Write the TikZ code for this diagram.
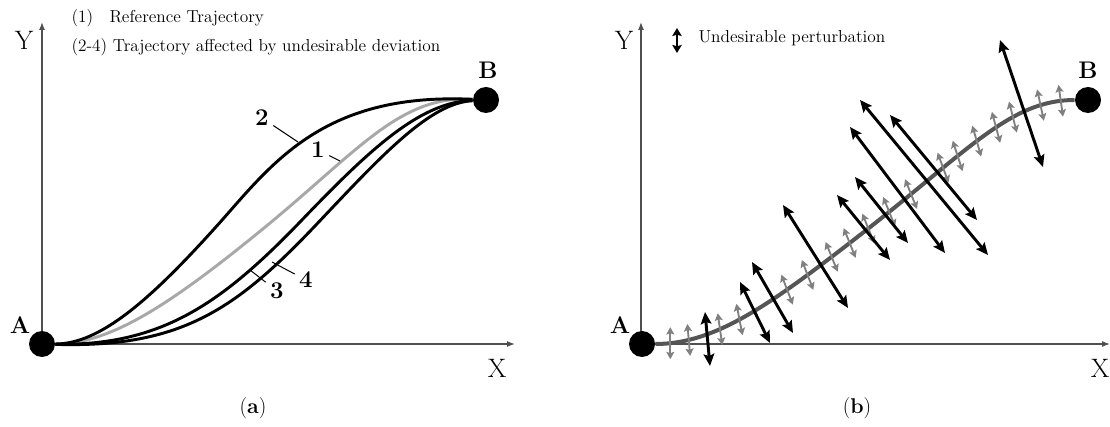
\documentclass[tikz,border=0pt]{standalone}
\usetikzlibrary{arrows.meta,decorations.markings}

\tikzset{every picture/.style={line width=0.75pt}}
\tikzset{
axisline/.style={draw={rgb, 255:red, 80; green, 80; blue, 80}, line width=0.9pt, -{Latex[length=6pt,width=4.5pt]}},
pathblack/.style={draw=black, line width=2.2pt},
pathgray/.style={draw={rgb, 255:red, 168; green, 168; blue, 168}, line width=2.2pt},
pathref/.style={draw={rgb, 255:red, 85; green, 85; blue, 85}, line width=3pt},
endpoint/.style={circle, fill=black, inner sep=0pt, minimum size=19.5pt},
ptlabel/.style={font=\fontsize{18}{20}\selectfont\bfseries, inner sep=0.75pt},
axlabel/.style={font=\fontsize{20}{22}\selectfont, inner sep=0.75pt},
numlabel/.style={font=\fontsize{18}{20}\selectfont\bfseries, inner sep=3pt},
leader/.style={draw=black, line width=0.75pt},
notetext/.style={font=\fontsize{13}{15}\selectfont, anchor=west, inner sep=0.75pt},
bigperturb/.style={draw=black, line width=2.2pt, {Stealth[length=9pt,width=8pt,inset=1.5pt]}-{Stealth[length=9pt,width=8pt,inset=1.5pt]}},
smallperturb/.style={draw={rgb, 255:red, 128; green, 128; blue, 128}, line width=1.4pt, {Stealth[length=5.5pt,width=6pt,inset=1pt]}-{Stealth[length=5.5pt,width=6pt,inset=1pt]}},
subcap/.style={font=\fontsize{16}{18}\selectfont, inner sep=0.75pt}
}

\begin{document}
\begin{tikzpicture}[x=0.75pt,y=0.75pt,yscale=-1,xscale=1]
\useasboundingbox (0,0) rectangle (1110,427);

%%%%%%%%%%%%%%%%%%%% (a) %%%%%%%%%%%%%%%%%%%%
%Shape: Axis 2D
\draw [axisline] (42,344) -- (42,22) ;
\draw [axisline] (42,344) -- (515,344) ;
%Shape: Circle (end points)
\node [endpoint] (A1) at (42,344) {} ;
\node [endpoint] (B1) at (486,100) {} ;
%Curve Lines (reference)
\draw [pathgray] (A1) .. controls (110,344) and (170,305) .. (264,228) .. controls (358,151) and (400,95) .. (B1) ;
%Curve Lines (deviated)
\draw [pathblack] (A1) .. controls (100,344) and (150,300) .. (215,228) .. controls (270,167) and (320,92) .. (B1) ;
\draw [pathblack] (A1) .. controls (160,346) and (220,305) .. (300,222) .. controls (370,149) and (420,102) .. (B1) ;
\draw [pathblack] (A1) .. controls (180,348) and (235,310) .. (315,226) .. controls (383,154) and (430,103) .. (B1) ;

% Text Node
\node [axlabel] (Ya) at (24,40) {Y} ;
\node [axlabel] (Xa) at (497,368) {X} ;
\node [ptlabel] (LA1) at (20,325) {A} ;
\node [ptlabel] (LB1) at (488,70) {B} ;
\node [notetext] (n1) at (70,18) {(1)} ;
\node [notetext] (n1t) at (108,18) {Reference Trajectory} ;
\node [notetext] (n2) at (70,47) {(2-4) Trajectory affected by undesirable deviation} ;

%Straight Lines (leaders)
\node [numlabel] (l1) at (318,150) {1} ;
\node [numlabel] (l2) at (262,118) {2} ;
\node [numlabel] (l3) at (277,291) {3} ;
\node [numlabel] (l4) at (306,280) {4} ;
\coordinate (p1) at (340,161) ;
\coordinate (p2) at (298,142) ;
\coordinate (p3) at (250,270) ;
\coordinate (p4) at (272,262) ;
\draw [leader] (l1) -- (p1) ;
\draw [leader] (l2) -- (p2) ;
\draw [leader] (l3) -- (p3) ;
\draw [leader] (l4) -- (p4) ;

\node [subcap] (capa) at (253,408) {(\textbf{a})} ;

%%%%%%%%%%%%%%%%%%%% (b) %%%%%%%%%%%%%%%%%%%%
%Shape: Axis 2D
\draw [axisline] (641,344) -- (641,22) ;
\draw [axisline] (641,344) -- (1110,344) ;
%Shape: Circle (end points)
\node [endpoint] (A2) at (642,344) {} ;
\node [endpoint] (B2) at (1088,100) {} ;
%Curve Lines (reference, with sample points)
\draw [pathref, postaction={decorate}, decoration={markings,
  mark=at position 0.030 with {\coordinate (g1);},
  mark=at position 0.068 with {\coordinate (g2);},
  mark=at position 0.135 with {\coordinate (g3);},
  mark=at position 0.179 with {\coordinate (g4);},
  mark=at position 0.293 with {\coordinate (g5);},
  mark=at position 0.344 with {\coordinate (g6);},
  mark=at position 0.405 with {\coordinate (g7);},
  mark=at position 0.451 with {\coordinate (g8);},
  mark=at position 0.499 with {\coordinate (g9);},
  mark=at position 0.553 with {\coordinate (g10);},
  mark=at position 0.610 with {\coordinate (g11);},
  mark=at position 0.694 with {\coordinate (g12);},
  mark=at position 0.732 with {\coordinate (g13);},
  mark=at position 0.781 with {\coordinate (g14);},
  mark=at position 0.829 with {\coordinate (g15);},
  mark=at position 0.869 with {\coordinate (g16);},
  mark=at position 0.930 with {\coordinate (g17);},
  mark=at position 0.972 with {\coordinate (g18);}}]
  (A2) .. controls (715,344) and (770,305) .. (860,235) .. controls (968,151) and (1010,100) .. (B2) ;

%small perturbations
\foreach \g/\ang in {1/0, 2/5, 3/8, 4/11, 5/21, 6/21, 7/22, 8/22, 9/22, 10/22, 11/22, 12/20, 13/18, 14/16, 15/15, 16/14, 17/12, 18/8}
  \draw [smallperturb] (g\g) ++(-90-\ang:16) -- ++(90-\ang:32) ;

%large perturbations
\foreach \sx/\sy/\ex/\ey in {705/312/710/366, 740/282/770/343, 752/262/793/333, 783/205/848/308, 837/195/890/260, 855/177/908/243, 850/127/945/253, 860/100/988/255, 890/115/977/220, 1000/40/1043/167}
  \draw [bigperturb] (\sx,\sy) -- (\ex,\ey) ;

% legend
\draw [draw=black, line width=2.2pt, {Stealth[length=6pt,width=7pt,inset=1pt]}-{Stealth[length=6pt,width=7pt,inset=1pt]}] (677,28) -- (677,53) ;

% Text Node
\node [axlabel] (Yb) at (624,40) {Y} ;
\node [axlabel] (Xb) at (1100,368) {X} ;
\node [ptlabel] (LA2) at (620,325) {A} ;
\node [ptlabel] (LB2) at (1088,70) {B} ;
\node [notetext] (leg) at (697,38) {Undesirable perturbation} ;

\node [subcap] (capb) at (857,408) {(\textbf{b})} ;

\end{tikzpicture}
\end{document}
